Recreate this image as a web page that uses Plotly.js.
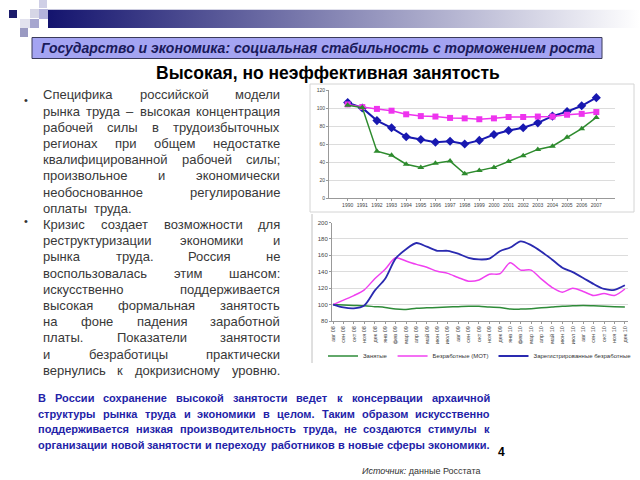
<!DOCTYPE html>
<html>
<head>
<meta charset="utf-8">
<script src="https://cdn.plot.ly/plotly-3.0.1.min.js"></script>
<style>
    html, body { margin: 0; padding: 0; background: #fff; }
    #slide { width: 640px; height: 480px; }
</style>
</head>
<body>
<div id="slide"></div>
<script>
// Top chart: indices, 1990 = 100
var years = ['1990', '1991', '1992', '1993', '1994', '1995', '1996', '1997', '1998',
             '1999', '2000', '2001', '2002', '2003', '2004', '2005', '2006', '2007'];
var gdpIndex = [106, 100, 86, 78, 68, 65, 62, 63, 60, 64, 70.5, 75, 78, 83.5, 91, 96, 102.5, 111.5];
var employmentIndex = [104, 101, 99, 97, 93, 91, 90.5, 89, 88.5, 87.5, 88.5, 90, 90, 90.5, 90.5, 92.5, 93.5, 95.5];
var wageIndex = [103, 100.5, 52, 47.5, 37.5, 34, 38.5, 41, 27, 30.5, 34, 40.5, 47, 54, 57.5, 67.5, 77, 89.5];

// Bottom chart: indices, авг 08 = 100
var months = ['авг 08', 'сен 08', 'окт 08', 'ноя 08', 'дек 08', 'янв 09', 'фев 09', 'мар 09',
              'апр 09', 'май 09', 'июн 09', 'июл 09', 'авг 09', 'сен 09', 'окт 09', 'ноя 09',
              'дек 09', 'янв 10', 'фев 10', 'мар 10', 'апр 10', 'май 10', 'июн 10', 'июл 10',
              'авг 10', 'сен 10', 'окт 10', 'ноя 10', 'дек 10'];
var employed = [100, 99.5, 99, 98.5, 97.5, 96.5, 94.5, 94, 95.5, 96, 96.5, 97, 97.5, 98, 98,
                97, 96.5, 94.5, 94.5, 95, 96, 97, 98, 98.5, 99, 98.5, 98, 97.5, 97];
var unemployedILO = [100, 105.5, 111, 118, 131.5, 143, 157, 153, 149, 145.5, 140.5, 138, 133, 128.5, 130,
                     137, 137.5, 151, 142, 142, 131, 121, 115, 120, 116, 111, 113.5, 111, 119];
var unemployedReg = [100, 96.5, 95.5, 99, 117, 131.5, 156, 167.5, 175, 170.5, 165.5, 165.5, 162, 157, 155,
                     156, 165, 169.5, 177, 172.5, 164.5, 155, 145, 139.5, 132.5, 125, 119, 118, 123.5];

// Slide text
var bullet1 = ['Специфика российской модели',
               'рынка труда – высокая концентрация',
               'рабочей силы в трудоизбыточных',
               'регионах при общем недостатке',
               'квалифицированной рабочей силы;',
               'произвольное и экономически',
               'необоснованное регулирование',
               'оплаты  труда.'];
var bullet2 = ['Кризис создает возможности для',
               'реструктуризации экономики и',
               'рынка труда. Россия не',
               'воспользовалась этим шансом:',
               'искусственно поддерживается',
               'высокая формальная занятость',
               'на фоне падения заработной',
               'платы. Показатели занятости',
               'и безработицы практически',
               'вернулись к докризисному уровню.'];
var summary = ['В России сохранение высокой занятости ведет к консервации архаичной',
               'структуры рынка труда и экономики в целом. Таким образом искусственно',
               'поддерживается низкая производительность труда, не создаются стимулы к',
               'организации новой занятости и переходу работников в новые сферы экономики.'];

var W = 640, H = 480;
var FONT = 'Liberation Sans, Arial, sans-serif';
function px(x) { return x / W; }
function py(y) { return 1 - y / H; }

// words go in as separate annotations; the gaps are fixed after the first render
var annotations = [];
var textLines = [];
function addLine(text, x0, x1, y, size, weight, color, justify) {
    var words = text.split(' ').filter(function (w) { return w.length > 0; });
    var line = {x0: x0, x1: x1, justify: justify, gap: size * 0.55, idx: []};
    words.forEach(function (w, i) {
        line.idx.push(annotations.length);
        annotations.push({
            text: w, xref: 'paper', yref: 'paper', x: px(x0 + i * 30), y: py(y),
            xanchor: 'left', yanchor: 'middle', showarrow: false, borderpad: 0, borderwidth: 0,
            font: {family: FONT, size: size, color: color, weight: weight}
        });
    });
    textLines.push(line);
}

var lineY = 95;
bullet1.forEach(function (t, i) {
    addLine(t, 43, 280, lineY, 13, 'normal', '#383838', i < bullet1.length - 1);
    lineY += 16.2;
});
bullet2.forEach(function (t, i) {
    addLine(t, 43, 280, lineY, 13, 'normal', '#383838', true);
    lineY += 16.2;
});
[95, 224].forEach(function (y) {
    annotations.push({text: '•', xref: 'paper', yref: 'paper', x: px(22), y: py(y - 3),
        showarrow: false, font: {family: FONT, size: 11, color: '#333'}});
});
summary.forEach(function (t, i) {
    addLine(t, 38, 490, 398 + i * 15.6, 11, 'bold', '#2323a8', true);
});

annotations.push({
    text: 'Государство и экономика: социальная стабильность с торможением роста',
    xref: 'paper', yref: 'paper', x: px(39), y: py(48), xanchor: 'left', yanchor: 'middle',
    showarrow: false, font: {family: FONT, size: 14, color: '#1a1a5a', weight: 'bold', style: 'italic'}
});
annotations.push({
    text: 'Высокая, но неэффективная занятость',
    xref: 'paper', yref: 'paper', x: px(328), y: py(73), xanchor: 'center', yanchor: 'middle',
    showarrow: false, font: {family: FONT, size: 17.5, color: '#000', weight: 'bold'}
});
annotations.push({
    text: '4', xref: 'paper', yref: 'paper', x: px(507), y: py(461),
    showarrow: false, font: {family: FONT, size: 12, color: '#000', weight: 'bold'}
});
annotations.push({
    text: '<i>Источник:</i> данные Росстата', xref: 'paper', yref: 'paper', x: px(360), y: py(471),
    xanchor: 'left', yanchor: 'middle', showarrow: false, font: {family: FONT, size: 9, color: '#333'}
});

// decorative squares in the corner
var squares = [
    [9, 10, 17, 18, '#1b1b6b'],
    [39, 0, 47, 8, '#cfcfe6'],
    [30, 9, 39, 18, '#d6d6e6'],
    [39, 9, 48, 19, '#b4b4dc'],
    [20, 19, 30, 28, '#e2e2ee'],
    [30, 19, 39, 28, '#a6a6cf'],
    [20, 28, 28, 37, '#9a9ac2']
];
var shapes = squares.map(function (s) {
    return {type: 'rect', xref: 'paper', yref: 'paper', x0: px(s[0]), x1: px(s[2]),
            y0: py(s[3]), y1: py(s[1]), fillcolor: s[4], line: {width: 0}, layer: 'below'};
});
shapes.push({type: 'rect', xref: 'paper', yref: 'paper', x0: px(32), x1: px(602), y0: py(58.5), y1: py(37.5),
             fillcolor: '#a4a4f2', line: {color: '#3a3a5a', width: 1}, layer: 'below'});
shapes.push({type: 'rect', xref: 'paper', yref: 'paper', x0: px(310), x1: px(634), y0: py(212), y1: py(84),
             line: {color: '#d4d4d4', width: 1}, layer: 'below'});
shapes.push({type: 'line', xref: 'paper', yref: 'paper', x0: px(312), x1: px(312), y0: py(363), y1: py(214),
             line: {color: '#c0c0c0', width: 1}, layer: 'below'});

var gradientSvg = '<svg xmlns="http://www.w3.org/2000/svg" width="600" height="20" viewBox="0 0 600 20" preserveAspectRatio="none">' +
    '<defs><linearGradient id="g" x1="0" x2="1" y1="0" y2="0">' +
    '<stop offset="0" stop-color="#14146e"/><stop offset="1" stop-color="#ffffff"/></linearGradient></defs>' +
    '<rect width="600" height="20" fill="url(#g)"/></svg>';

var trace1 = {
    x: years, y: gdpIndex, name: 'ВВП', type: 'scatter', mode: 'lines+markers',
    line: {color: '#1818b0', width: 2}, marker: {symbol: 'diamond', size: 7, color: '#1818b0'},
    showlegend: false, xaxis: 'x', yaxis: 'y'
};
var trace2 = {
    x: years, y: employmentIndex, name: 'Занятость', type: 'scatter', mode: 'lines+markers',
    line: {color: '#ee33ee', width: 1.5}, marker: {symbol: 'square', size: 6, color: '#ee33ee'},
    showlegend: false, xaxis: 'x', yaxis: 'y'
};
var trace3 = {
    x: years, y: wageIndex, name: 'Реальная заработная плата', type: 'scatter', mode: 'lines+markers',
    line: {color: '#2e8b2e', width: 1.5}, marker: {symbol: 'triangle-up', size: 6, color: '#2e8b2e'},
    showlegend: false, xaxis: 'x', yaxis: 'y'
};
var trace4 = {
    x: months, y: employed, name: 'Занятые', type: 'scatter', mode: 'lines',
    line: {color: '#2e8b38', width: 1.5, shape: 'spline', smoothing: 0.8}, xaxis: 'x2', yaxis: 'y2'
};
var trace5 = {
    x: months, y: unemployedILO, name: 'Безработные (МОТ)', type: 'scatter', mode: 'lines',
    line: {color: '#f040f0', width: 1.5, shape: 'spline', smoothing: 0.8}, xaxis: 'x2', yaxis: 'y2'
};
var trace6 = {
    x: months, y: unemployedReg, name: 'Зарегистрированные безработные', type: 'scatter', mode: 'lines',
    line: {color: '#2a2ab0', width: 1.8, shape: 'spline', smoothing: 0.8}, xaxis: 'x2', yaxis: 'y2'
};

var data = [trace1, trace2, trace3, trace4, trace5, trace6];

var tickFont = {family: FONT, size: 5, color: '#444'};
var layout = {
    width: W, height: H,
    margin: {t: 0, l: 0, r: 0, b: 0},
    paper_bgcolor: '#fff', plot_bgcolor: 'rgba(0,0,0,0)',
    font: {family: FONT},
    showlegend: true,
    legend: {orientation: 'h', x: px(480), xanchor: 'center', y: py(356), yanchor: 'middle',
             font: {family: FONT, size: 6, color: '#333'}, bgcolor: 'rgba(0,0,0,0)'},
    xaxis: {domain: [px(329), px(615)], anchor: 'y', type: 'category', showgrid: false,
            showline: true, linecolor: '#999', ticks: 'outside', ticklen: 2, tickcolor: '#999',
            tickfont: tickFont},
    yaxis: {domain: [py(198), py(90)], anchor: 'x', range: [0, 120], dtick: 20,
            gridcolor: '#dcdcdc', zeroline: false, showline: true, linecolor: '#999',
            ticks: 'outside', ticklen: 2, tickcolor: '#999', tickfont: tickFont},
    xaxis2: {domain: [px(332), px(628)], anchor: 'y2', type: 'category', range: [-0.1, 28.3],
             tickmode: 'array', tickvals: months, ticktext: months, tickangle: -90,
             showgrid: false, showline: true, linecolor: '#999', ticks: 'outside', ticklen: 2,
             tickcolor: '#999', tickfont: {family: FONT, size: 5.5, color: '#444'}},
    yaxis2: {domain: [py(321), py(222.5)], anchor: 'x2', range: [80, 200], dtick: 20,
             gridcolor: '#dcdcdc', zeroline: false, showline: true, linecolor: '#999',
             ticks: 'outside', ticklen: 2, tickcolor: '#999',
             tickfont: {family: FONT, size: 6, color: '#444'}},
    shapes: shapes,
    annotations: annotations,
    images: [{
        source: 'data:image/svg+xml;utf8,' + encodeURIComponent(gradientSvg),
        xref: 'paper', yref: 'paper', x: px(48), y: py(9.5), sizex: px(592), sizey: 18.5 / H,
        sizing: 'stretch', xanchor: 'left', yanchor: 'top', layer: 'below'
    }]
};

// spread the words of each line using the widths plotly actually drew
function justifyWords(gd) {
    var widths = {};
    gd.querySelectorAll('g.annotation').forEach(function (g) {
        var t = g.querySelector('text.annotation-text');
        if (t) widths[+g.getAttribute('data-index')] = t.getBBox().width;
    });
    var update = {};
    textLines.forEach(function (line) {
        var ws = line.idx.map(function (i) { return widths[i] || 0; });
        var total = ws.reduce(function (a, b) { return a + b; }, 0);
        var gap = line.gap;
        if (line.justify && ws.length > 1) gap = Math.max(2, (line.x1 - line.x0 - total) / (ws.length - 1));
        var x = line.x0;
        line.idx.forEach(function (i, k) {
            update['annotations[' + i + '].x'] = px(x);
            x += ws[k] + gap;
        });
    });
    return Plotly.relayout(gd, update);
}

var ready = document.fonts && document.fonts.ready ? document.fonts.ready : Promise.resolve();
ready.then(function () {
    return Plotly.newPlot('slide', data, layout, {displayModeBar: false, staticPlot: true});
}).then(justifyWords);
</script>
</body>
</html>
